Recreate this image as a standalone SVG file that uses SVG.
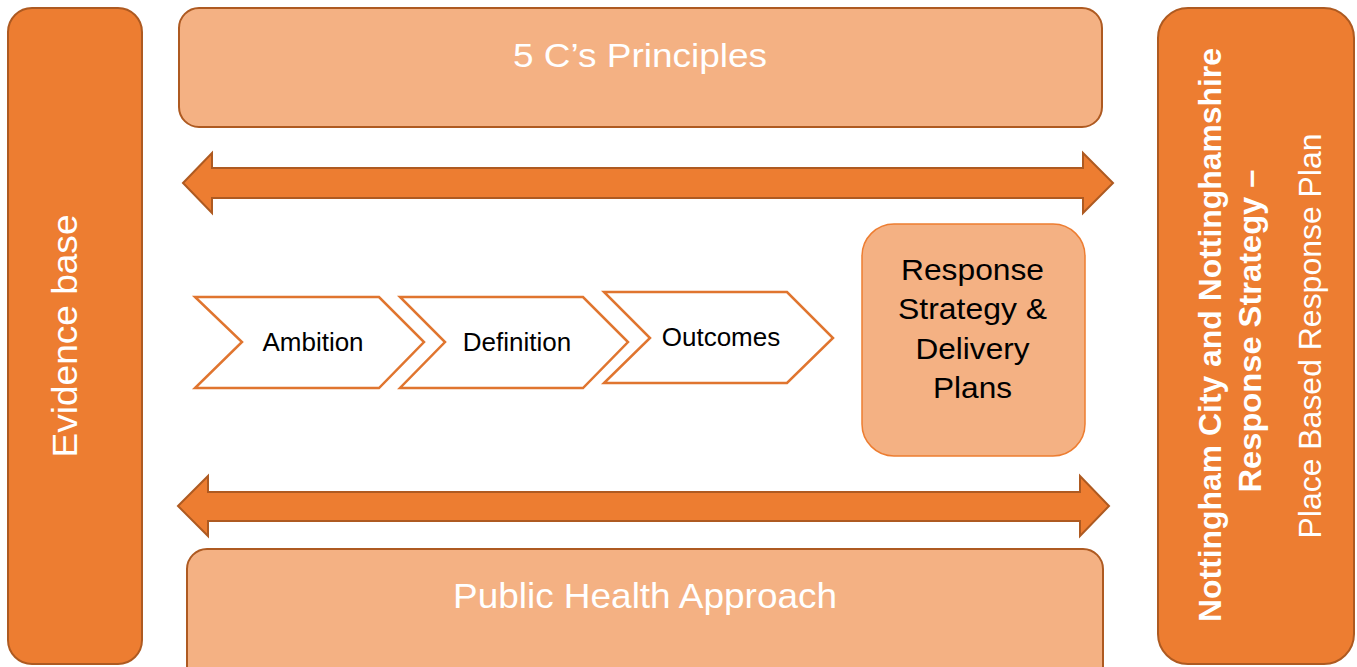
<svg xmlns="http://www.w3.org/2000/svg" width="1357" height="667" viewBox="0 0 1357 667">
<style>
.dark{fill:#ED7D31;stroke:#AE5A21;stroke-width:2}
.light{fill:#F4B183;stroke:#AE5A21;stroke-width:2}
.resp{fill:#F4B183;stroke:#ED7D31;stroke-width:1.5}
.chev{fill:#FFFFFF;stroke:#E0752F;stroke-width:2.5;stroke-linejoin:miter}
.arrow{fill:#ED7D31;stroke:#AE5A21;stroke-width:2;stroke-linejoin:miter}
text{font-family:"Liberation Sans",Arial,sans-serif}
.wt{fill:#FFFFFF}
.bk{fill:#000000}
</style>
<rect width="1357" height="667" fill="#FFFFFF"/>
<g id="evidence-base">
<rect class="dark" x="8" y="8" width="134" height="656" rx="24"/>
<text class="wt" transform="translate(77,336) rotate(-90)" text-anchor="middle" font-size="35" textLength="243" lengthAdjust="spacingAndGlyphs">Evidence base</text>
</g>
<g id="principles">
<rect class="light" x="179" y="8" width="923" height="119" rx="20"/>
<text class="wt" x="640" y="67" text-anchor="middle" font-size="34" textLength="254" lengthAdjust="spacingAndGlyphs">5 C’s Principles</text>
</g>
<g id="public-health">
<rect class="light" x="187" y="549" width="916" height="140" rx="20"/>
<text class="wt" x="645" y="608" text-anchor="middle" font-size="35" textLength="384" lengthAdjust="spacingAndGlyphs">Public Health Approach</text>
</g>
<g id="place-based-plan">
<rect class="dark" x="1158" y="8" width="196" height="656" rx="30"/>
<text class="wt" transform="translate(1221,335) rotate(-90)" text-anchor="middle" font-size="31" font-weight="bold" textLength="574" lengthAdjust="spacingAndGlyphs">Nottingham City and Nottinghamshire</text>
<text class="wt" transform="translate(1261,331) rotate(-90)" text-anchor="middle" font-size="31" font-weight="bold" textLength="323" lengthAdjust="spacingAndGlyphs">Response Strategy –</text>
<text class="wt" transform="translate(1321,336) rotate(-90)" text-anchor="middle" font-size="31" textLength="405" lengthAdjust="spacingAndGlyphs">Place Based Response Plan</text>
</g>
<g id="ambition">
<polygon class="chev" points="195,297 379,297 424,342 379,388 195,388 242,342"/>
<text class="bk" x="313" y="351" text-anchor="middle" font-size="26">Ambition</text>
</g>
<g id="definition">
<polygon class="chev" points="400,297 583,297 628,342 583,388 400,388 445,342"/>
<text class="bk" x="517" y="351" text-anchor="middle" font-size="26">Definition</text>
</g>
<g id="outcomes">
<polygon class="chev" points="604,292 787,292 833,338 787,383 604,383 650,338"/>
<text class="bk" x="721" y="346" text-anchor="middle" font-size="26">Outcomes</text>
</g>
<g id="response-strategy">
<rect class="resp" x="862" y="224" width="223" height="232" rx="32"/>
<text class="bk" x="972.5" y="280" text-anchor="middle" font-size="30" textLength="143" lengthAdjust="spacingAndGlyphs">Response</text>
<text class="bk" x="972.5" y="319" text-anchor="middle" font-size="30" textLength="149" lengthAdjust="spacingAndGlyphs">Strategy &amp;</text>
<text class="bk" x="972.5" y="359" text-anchor="middle" font-size="30" textLength="114" lengthAdjust="spacingAndGlyphs">Delivery</text>
<text class="bk" x="972.5" y="398" text-anchor="middle" font-size="30" textLength="79" lengthAdjust="spacingAndGlyphs">Plans</text>
</g>
<g id="connectors">
<polygon class="arrow" points="183,183 212,153 212,168 1083,168 1083,153 1113,183 1083,213 1083,198 212,198 212,213"/>
<polygon class="arrow" points="178,506 208,476 208,492 1080,492 1080,476 1109,506 1080,536 1080,521 208,521 208,536"/>
</g>
</svg>
